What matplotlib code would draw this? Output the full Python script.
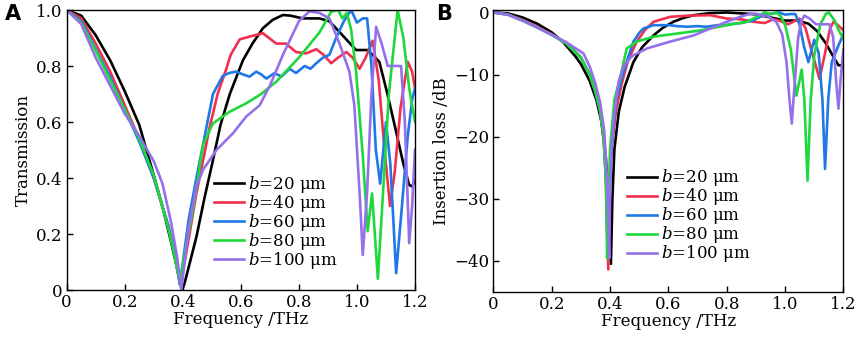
import matplotlib
matplotlib.use("Agg")
import matplotlib.pyplot as plt

plt.rcParams['font.family'] = ['DejaVu Serif']
plt.rcParams['mathtext.fontset'] = 'dejavuserif'

# ---- panel A: transmission ----
f20_a = [0, 0.05, 0.1, 0.15, 0.2, 0.25, 0.3, 0.332, 0.36, 0.38, 0.397, 0.405, 0.42, 0.447, 0.475, 0.504, 0.53,
         0.562, 0.607, 0.64, 0.676, 0.71, 0.745, 0.77, 0.813, 0.87, 0.905, 0.95, 0.997, 1.037, 1.077, 1.105,
         1.135, 1.16, 1.18, 1.19, 1.2]
t20 = [1.0, 0.98, 0.91, 0.82, 0.71, 0.59, 0.41, 0.29, 0.17, 0.08, 0.0, 0.02, 0.08, 0.19, 0.33, 0.464, 0.59,
       0.70, 0.82, 0.88, 0.935, 0.965, 0.982, 0.98, 0.97, 0.97, 0.96, 0.91, 0.857, 0.857, 0.815, 0.7,
       0.565, 0.45, 0.375, 0.37, 0.39]

f40_a = [0, 0.05, 0.1, 0.15, 0.2, 0.25, 0.3, 0.35, 0.37, 0.39, 0.41, 0.447, 0.493, 0.52, 0.55, 0.565, 0.596,
         0.63, 0.676, 0.722, 0.755, 0.79, 0.825, 0.86, 0.885, 0.911, 0.935, 0.963, 0.985, 1.009, 1.03, 1.054,
         1.075, 1.095, 1.114, 1.13, 1.15, 1.175, 1.19, 1.2]
t40 = [1.0, 0.97, 0.88, 0.78, 0.66, 0.54, 0.40, 0.23, 0.14, 0.02, 0.12, 0.345, 0.583, 0.70, 0.79, 0.84, 0.895,
       0.905, 0.917, 0.88, 0.88, 0.85, 0.845, 0.86, 0.84, 0.81, 0.83, 0.85, 0.83, 0.79, 0.83, 0.89,
       0.75, 0.5, 0.30, 0.42, 0.65, 0.815, 0.78, 0.72]

f60_a = [0, 0.05, 0.1, 0.15, 0.2, 0.25, 0.3, 0.35, 0.37, 0.39, 0.42, 0.447, 0.47, 0.504, 0.538, 0.56, 0.584,
         0.607, 0.63, 0.653, 0.67, 0.688, 0.716, 0.74, 0.768, 0.79, 0.82, 0.84, 0.86, 0.883, 0.905, 0.928,
         0.955, 0.98, 1.0, 1.02, 1.035, 1.05, 1.065, 1.08, 1.1, 1.115, 1.135, 1.155, 1.175, 1.19, 1.2]
t60 = [1.0, 0.96, 0.86, 0.76, 0.645, 0.53, 0.40, 0.23, 0.14, 0.02, 0.25, 0.40, 0.52, 0.70, 0.765, 0.775, 0.78,
       0.77, 0.762, 0.78, 0.77, 0.755, 0.775, 0.762, 0.79, 0.775, 0.80, 0.79, 0.81, 0.83, 0.84, 0.90,
       0.96, 1.0, 0.955, 0.97, 0.97, 0.80, 0.50, 0.38, 0.60, 0.45, 0.06, 0.30, 0.55, 0.68, 0.72]

f80_a = [0, 0.05, 0.1, 0.15, 0.2, 0.25, 0.3, 0.35, 0.37, 0.39, 0.41, 0.435, 0.47, 0.504, 0.562, 0.619, 0.67,
         0.722, 0.80, 0.871, 0.911, 0.935, 0.95, 0.965, 0.98, 0.997, 1.02, 1.037, 1.052, 1.072, 1.09, 1.11,
         1.14, 1.16, 1.18, 1.2]
t80 = [1.0, 0.955, 0.855, 0.75, 0.645, 0.54, 0.41, 0.22, 0.13, 0.03, 0.15, 0.286, 0.52, 0.595, 0.637, 0.667,
       0.70, 0.744, 0.83, 0.92, 0.994, 1.0, 0.97, 0.99, 0.93, 0.78, 0.48, 0.21, 0.345, 0.04, 0.35, 0.7,
       1.0, 0.9, 0.72, 0.6]

f100_a = [0, 0.05, 0.1, 0.15, 0.2, 0.25, 0.3, 0.33, 0.36, 0.38, 0.395, 0.42, 0.447, 0.47, 0.516, 0.573, 0.619,
          0.665, 0.70, 0.745, 0.80, 0.836, 0.87, 0.905, 0.94, 0.974, 0.991, 1.01, 1.02, 1.035, 1.05, 1.066,
          1.085, 1.106, 1.13, 1.152, 1.165, 1.18, 1.19, 1.2]
t100 = [1.0, 0.95, 0.83, 0.73, 0.63, 0.55, 0.46, 0.38, 0.24, 0.12, 0.0, 0.22, 0.37, 0.43, 0.50, 0.56, 0.62,
        0.66, 0.73, 0.84, 0.96, 0.995, 0.99, 0.97, 0.88, 0.78, 0.66, 0.33, 0.125, 0.35, 0.7, 0.94,
        0.88, 0.80, 0.80, 0.80, 0.6, 0.167, 0.3, 0.5]

# ---- panel B: insertion loss (dB) ----
f20_b = [0, 0.05, 0.1, 0.15, 0.2, 0.24, 0.28, 0.3, 0.33, 0.354, 0.37, 0.385, 0.395, 0.403, 0.408, 0.415, 0.43,
         0.45, 0.48, 0.51, 0.549, 0.58, 0.617, 0.65, 0.686, 0.743, 0.8, 0.87, 0.9, 0.95, 1.0, 1.04, 1.08,
         1.11, 1.14, 1.17, 1.183, 1.195, 1.2]
il20 = [0, -0.15, -0.8, -1.8, -3.2, -4.8, -7.0, -8.3, -11, -14.2, -17.5, -23, -30, -40.5, -30, -22, -16,
        -12, -8.0, -5.6, -3.7, -2.5, -1.5, -0.9, -0.44, -0.1, 0, -0.2, -0.3, -0.8, -1.3, -1.3, -1.8,
        -3.0, -5.0, -7.5, -8.5, -8.5, -8.0]

f40_b = [0, 0.05, 0.1, 0.15, 0.2, 0.25, 0.3, 0.33, 0.35, 0.366, 0.378, 0.386, 0.394, 0.398, 0.405, 0.42, 0.44,
         0.46, 0.49, 0.52, 0.549, 0.606, 0.67, 0.743, 0.80, 0.85, 0.891, 0.93, 0.96, 0.98, 1.01, 1.05,
         1.07, 1.09, 1.118, 1.135, 1.154, 1.166, 1.185, 1.2]
il40 = [0, -0.3, -1.2, -2.3, -3.5, -4.9, -7.2, -10, -12.8, -15.8, -20, -27, -41.4, -30, -22, -16, -11.5,
        -8, -4.8, -2.8, -1.5, -0.7, -0.5, -0.44, -0.97, -1.1, -1.5, -1.7, -1.1, -1.3, -1.9, -1.0,
        -2.5, -6, -10.7, -7.0, -2.6, -1.5, -2.2, -2.9]

f60_b = [0, 0.05, 0.1, 0.15, 0.2, 0.25, 0.3, 0.33, 0.35, 0.366, 0.378, 0.386, 0.392, 0.398, 0.405, 0.42, 0.44,
         0.46, 0.48, 0.5, 0.514, 0.549, 0.58, 0.606, 0.63, 0.663, 0.7, 0.73, 0.766, 0.79, 0.823, 0.85,
         0.869, 0.89, 0.914, 0.94, 0.98, 1.0, 1.02, 1.035, 1.05, 1.065, 1.08, 1.1, 1.115, 1.128, 1.137,
         1.148, 1.16, 1.183, 1.2]
il60 = [0, -0.35, -1.3, -2.4, -3.6, -5.0, -7.3, -10, -12.8, -15.8, -20, -27, -39, -30, -22, -14.5, -10.5,
        -7.5, -4.7, -3.3, -2.6, -2.05, -2.05, -2.05, -2.2, -2.3, -2.2, -2.3, -2.05, -2.1, -1.8, -1.7,
        -1.5, -1.3, -0.7, -0.3, 0, -0.35, -0.25, -0.25, -2.0, -5.5, -8.0, -4.4, -6.5, -14, -25.2,
        -14, -8, -5.3, -3.5]

f80_b = [0, 0.05, 0.1, 0.15, 0.2, 0.25, 0.3, 0.33, 0.35, 0.366, 0.378, 0.386, 0.39, 0.395, 0.40, 0.415, 0.435,
         0.457, 0.491, 0.549, 0.629, 0.709, 0.8, 0.869, 0.903, 0.93, 0.95, 0.97, 0.985, 1.0, 1.02, 1.039,
         1.057, 1.066, 1.077, 1.088, 1.1, 1.12, 1.14, 1.15, 1.17, 1.185, 1.2]
il80 = [0, -0.35, -1.3, -2.4, -3.6, -5.0, -7.3, -10, -12.8, -15.8, -20, -27, -39.6, -30, -22, -14, -10.5,
        -5.8, -4.7, -3.9, -3.4, -2.9, -2.05, -1.5, -0.7, 0, -0.3, 0, -0.6, -2, -6, -13.4,
        -9.2, -14, -27.1, -14, -7, -2, -0.2, 0, -1.3, -3, -4.2]

f100_b = [0, 0.05, 0.1, 0.15, 0.2, 0.25, 0.309, 0.331, 0.35, 0.366, 0.38, 0.39, 0.397, 0.40, 0.405, 0.415,
          0.43, 0.447, 0.47, 0.48, 0.514, 0.526, 0.606, 0.686, 0.743, 0.8, 0.846, 0.88, 0.9, 0.94, 0.97,
          0.99, 1.005, 1.015, 1.023, 1.032, 1.045, 1.055, 1.066, 1.085, 1.106, 1.13, 1.152, 1.165, 1.175,
          1.183, 1.19, 1.2]
il100 = [0, -0.35, -1.3, -2.4, -3.6, -4.8, -6.6, -8.8, -11.5, -14.5, -19, -27, -39.6, -30, -22, -16,
         -11, -8.6, -7.3, -6.9, -6.1, -5.8, -4.7, -3.7, -2.6, -1.5, -0.7, -0.2, -0.2, -0.6, -1.5,
         -3.5, -8, -14, -17.9, -12, -4, -1.5, -0.5, -1.0, -1.9, -1.9, -1.9, -4, -11,
         -15.5, -11, -6]

labels = [r'$b$=20 μm', r'$b$=40 μm', r'$b$=60 μm', r'$b$=80 μm', r'$b$=100 μm']
colors = ['#000000', '#f2304e', '#1f78e6', '#1ed83c', '#9470ea']

fig = plt.figure(figsize=(8.58, 3.39), dpi=100)
ax1 = fig.add_axes([0.0777, 0.1445, 0.406, 0.826])
ax2 = fig.add_axes([0.575, 0.1395, 0.408, 0.831])

series_a = [(f20_a, t20), (f40_a, t40), (f60_a, t60), (f80_a, t80), (f100_a, t100)]
series_b = [(f20_b, il20), (f40_b, il40), (f60_b, il60), (f80_b, il80), (f100_b, il100)]

for (x, y), c, lab in zip(series_a, colors, labels):
    ax1.plot(x, y, color=c, lw=1.9, label=lab, solid_joinstyle='round')
for (x, y), c, lab in zip(series_b, colors, labels):
    ax2.plot(x, y, color=c, lw=1.9, label=lab, solid_joinstyle='round')

ax1.set_xlim(0, 1.2)
ax1.set_ylim(0, 1.0)
ax1.set_xticks([0, 0.2, 0.4, 0.6, 0.8, 1.0, 1.2])
ax1.set_xticklabels(['0', '0.2', '0.4', '0.6', '0.8', '1.0', '1.2'])
ax1.set_yticks([0, 0.2, 0.4, 0.6, 0.8, 1.0])
ax1.set_yticklabels(['0', '0.2', '0.4', '0.6', '0.8', '1.0'])
ax1.set_xlabel('Frequency /THz', fontsize=12, labelpad=0)
ax1.set_ylabel('Transmission', fontsize=12, labelpad=3)

ax2.set_xlim(0, 1.2)
ax2.set_ylim(-45, 0.4)
ax2.set_xticks([0, 0.2, 0.4, 0.6, 0.8, 1.0, 1.2])
ax2.set_xticklabels(['0', '0.2', '0.4', '0.6', '0.8', '1.0', '1.2'])
ax2.set_yticks([0, -10, -20, -30, -40])
ax2.set_yticklabels(['0', '−10', '−20', '−30', '−40'])
ax2.set_xlabel('Frequency /THz', fontsize=12, labelpad=0)
ax2.set_ylabel('Insertion loss /dB', fontsize=12, labelpad=3)

for ax in (ax1, ax2):
    ax.tick_params(direction='in', length=4, width=1, labelsize=12, top=False, right=False, pad=3)
    for s in ax.spines.values():
        s.set_linewidth(1.0)

ax1.legend(loc='upper left', bbox_to_anchor=(0.404, 0.438), frameon=False, fontsize=12,
           handlelength=1.8, handletextpad=0.25, labelspacing=-0.12, borderaxespad=0)
ax2.legend(loc='upper left', bbox_to_anchor=(0.362, 0.465), frameon=False, fontsize=12,
           handlelength=1.8, handletextpad=0.25, labelspacing=-0.12, borderaxespad=0)

fig.text(0.006, 0.94, 'A', fontsize=15, fontweight='bold', family='DejaVu Sans')
fig.text(0.508, 0.94, 'B', fontsize=15, fontweight='bold', family='DejaVu Sans')

fig.savefig('out.png', dpi=100)
